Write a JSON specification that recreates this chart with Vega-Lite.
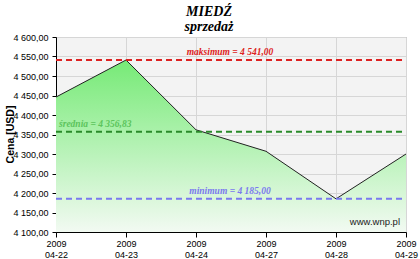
{
  "$schema": "https://vega.github.io/schema/vega-lite/v6.json",
  "width": 350,
  "height": 195,
  "autosize": "none",
  "padding": {"left": 56, "top": 37, "right": 14, "bottom": 27},
  "background": "white",
  "config": {
    "locale": {"number": {"decimal": ",", "thousands": " ", "grouping": [3], "currency": ["", ""]}},
    "view": {"fill": "#f3f3f3", "stroke": "#999999"},
    "axis": {"labelFont": "Liberation Sans", "labelFontSize": 9, "labelColor": "#000", "domainColor": "#000", "tickColor": "#000", "gridColor": "#d6d6d6", "gridWidth": 1, "labelOverlap": false}
  },
  "title": {
    "text": ["MIEDŹ", "sprzedaż"],
    "font": "Liberation Serif",
    "fontStyle": "italic",
    "fontWeight": "bold",
    "fontSize": 14,
    "lineHeight": 15,
    "anchor": "middle",
    "dx": -22,
    "offset": -1,
    "color": "#000"
  },
  "datasets": {
    "prices": [
      {"d": "2009-04-22", "v": 4446},
      {"d": "2009-04-23", "v": 4541},
      {"d": "2009-04-24", "v": 4362},
      {"d": "2009-04-27", "v": 4307},
      {"d": "2009-04-28", "v": 4185},
      {"d": "2009-04-29", "v": 4300}
    ],
    "refs": [
      {"name": "max", "v": 4541.0, "label": "maksimum = 4 541,00", "d": "2009-04-24"},
      {"name": "avg", "v": 4356.83, "label": "średnia = 4 356,83", "d": "2009-04-22"},
      {"name": "min", "v": 4185.0, "label": "minimum = 4 185,00", "d": "2009-04-24"}
    ]
  },
  "encoding": {
    "x": {"field": "d", "type": "ordinal", "sort": ["2009-04-22", "2009-04-23", "2009-04-24", "2009-04-27", "2009-04-28", "2009-04-29"],
      "scale": {"type": "point", "padding": 0, "domain": ["2009-04-22", "2009-04-23", "2009-04-24", "2009-04-27", "2009-04-28", "2009-04-29"]},
      "axis": {"title": null, "labelAngle": 0, "grid": true, "tickSize": 5, "labelPadding": 2,
        "labelExpr": "[slice(datum.value,0,4), slice(datum.value,5)]", "labelLineHeight": 11}},
    "y": {"field": "v", "type": "quantitative",
      "scale": {"domain": [4100, 4600], "zero": false, "nice": false},
      "axis": {"title": "Cena [USD]", "titleFont": "Liberation Sans", "titleFontSize": 10.5, "titleFontWeight": "bold", "titleColor": "#000",
        "titleX": -41, "titleY": 97, "titleBaseline": "bottom", "titleAlign": "center", "titleAngle": -90,
        "format": ",.2f", "values": [4100, 4150, 4200, 4250, 4300, 4350, 4400, 4450, 4500, 4550, 4600], "labelOverlap": false, "tickSize": 4, "labelPadding": 4, "grid": true}}
  },
  "layer": [
    {
      "data": {"name": "prices"},
      "mark": {
        "type": "area",
        "line": false,
        "color": {"gradient": "linear", "x1": 0, "y1": 0, "x2": 0, "y2": 1,
          "stops": [{"offset": 0, "color": "#76ea76"}, {"offset": 1, "color": "#f2faf2"}]}
      },
      "encoding": {"y2": {"datum": 4100}}
    },
    {
      "data": {"name": "prices"},
      "mark": {"type": "line", "color": "#222222", "strokeWidth": 1},
      "encoding": {}
    },
    {
      "data": {"name": "refs"},
      "mark": {"type": "rule", "strokeWidth": 2, "strokeDash": [6, 4]},
      "encoding": {
        "x": {"datum": "2009-04-22"},
        "x2": {"datum": "2009-04-29"},
        "color": {"field": "name", "type": "nominal", "legend": null,
          "scale": {"domain": ["max", "avg", "min"], "range": ["#dd2222", "#2a8a2a", "#7a7aee"]}}
      }
    },
    {
      "data": {"name": "refs"},
      "transform": [{"filter": "datum.name != 'avg'"}],
      "mark": {"type": "text", "font": "Liberation Serif", "fontStyle": "italic", "fontWeight": "bold", "fontSize": 9.5, "dx": 34, "dy": -3, "baseline": "bottom", "align": "center"},
      "encoding": {
        "text": {"field": "label"},
        "color": {"field": "name", "type": "nominal", "legend": null,
          "scale": {"domain": ["max", "avg", "min"], "range": ["#cc2222", "#2a8a2a", "#8888dd"]}}
      }
    },
    {
      "data": {"name": "refs"},
      "transform": [{"filter": "datum.name == 'avg'"}],
      "mark": {"type": "text", "font": "Liberation Serif", "fontStyle": "italic", "fontWeight": "bold", "fontSize": 9.5, "dx": 3, "dy": -3, "baseline": "bottom", "align": "left", "color": "#5cc45c"},
      "encoding": {
        "text": {"field": "label"}
      }
    },
    {
      "data": {"values": [{"d": "2009-04-29", "v": 4125, "t": "www.wnp.pl"}]},
      "mark": {"type": "text", "font": "Liberation Sans", "fontSize": 9.5, "align": "right", "dx": -6, "color": "#222"},
      "encoding": {
        "text": {"field": "t"}
      }
    }
  ]
}
